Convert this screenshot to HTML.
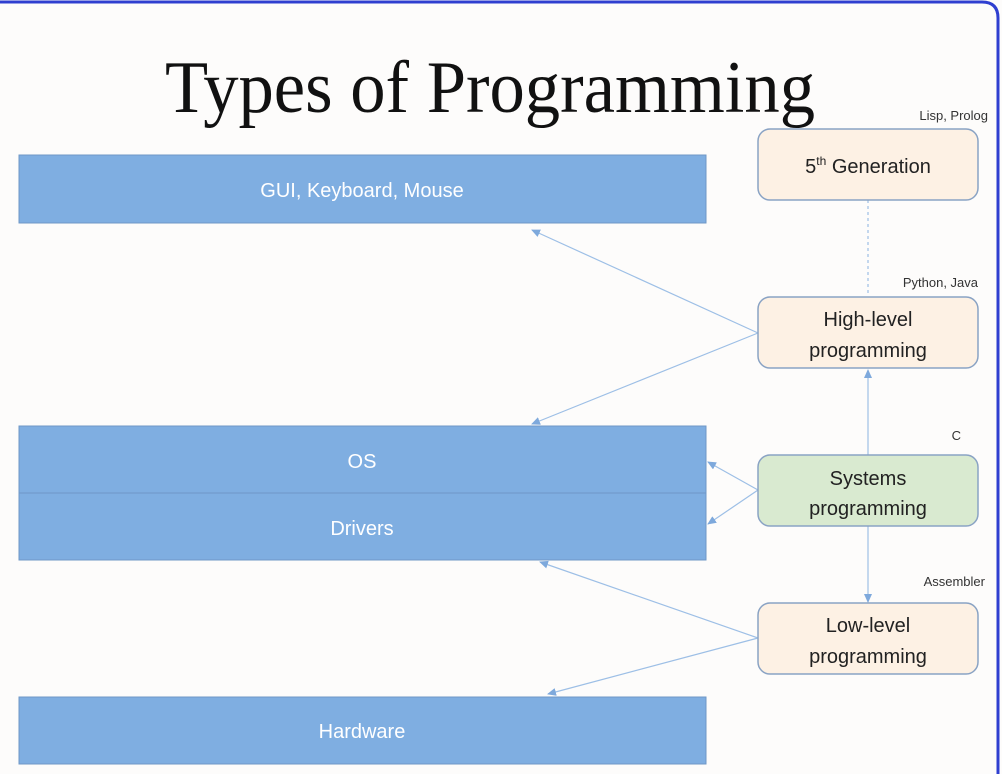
<!DOCTYPE html>
<html><head><meta charset="utf-8"><style>
html,body{margin:0;padding:0;background:#fff}
body{width:1002px;height:774px;overflow:hidden}
svg text{font-family:"Liberation Sans",sans-serif}
</style></head><body>
<svg width="1002" height="774" viewBox="0 0 1002 774" xmlns="http://www.w3.org/2000/svg">
<defs>
<marker id="a" markerWidth="10" markerHeight="10" refX="8" refY="4" orient="auto" markerUnits="userSpaceOnUse">
<path d="M0,0 L9,4 L0,8 z" fill="#7ea9dc"/>
</marker>
</defs>
<rect x="0" y="0" width="1002" height="774" fill="#fdfcfb"/>
<path d="M0,2 L982,2 Q998,2 998,18 L998,774" fill="none" stroke="#2f3fd0" stroke-width="3"/>
<text x="165" y="112" textLength="650" lengthAdjust="spacingAndGlyphs" font-size="74" fill="#111" style="font-family:'Liberation Serif',serif">Types of Programming</text>

<rect x="19" y="155" width="687" height="68" fill="#7faee1" stroke="#6f97c6"/>
<text x="362" y="197" text-anchor="middle" font-size="20" fill="#fff">GUI, Keyboard, Mouse</text>
<rect x="19" y="426" width="687" height="67" fill="#7faee1" stroke="#6f97c6"/>
<text x="362" y="468" text-anchor="middle" font-size="20" fill="#fff">OS</text>
<rect x="19" y="493" width="687" height="67" fill="#7faee1" stroke="#6f97c6"/>
<text x="362" y="535" text-anchor="middle" font-size="20" fill="#fff">Drivers</text>
<rect x="19" y="697" width="687" height="67" fill="#7faee1" stroke="#6f97c6"/>
<text x="362" y="738" text-anchor="middle" font-size="20" fill="#fff">Hardware</text>

<g stroke="#9dbfe6" stroke-width="1.2" fill="none">
<line x1="868" y1="200" x2="868" y2="296" stroke-dasharray="3,3"/>
<line x1="758" y1="333" x2="532" y2="230" marker-end="url(#a)"/>
<line x1="758" y1="333" x2="532" y2="424" marker-end="url(#a)"/>
<line x1="758" y1="490" x2="708" y2="462" marker-end="url(#a)"/>
<line x1="758" y1="490" x2="708" y2="524" marker-end="url(#a)"/>
<line x1="868" y1="455" x2="868" y2="370" marker-end="url(#a)"/>
<line x1="868" y1="526" x2="868" y2="602" marker-end="url(#a)"/>
<line x1="758" y1="638" x2="540" y2="562" marker-end="url(#a)"/>
<line x1="758" y1="638" x2="548" y2="694" marker-end="url(#a)"/>
</g>

<rect x="758" y="129" width="220" height="71" rx="12" fill="#fdf1e4" stroke="#8aa3c4" stroke-width="1.5"/>
<text x="868" y="173" text-anchor="middle" font-size="20" fill="#222">5<tspan font-size="12" dy="-8">th</tspan><tspan dy="8"> Generation</tspan></text>
<rect x="758" y="297" width="220" height="71" rx="12" fill="#fdf1e4" stroke="#8aa3c4" stroke-width="1.5"/>
<text x="868" y="326" text-anchor="middle" font-size="20" fill="#222">High-level</text>
<text x="868" y="357" text-anchor="middle" font-size="20" fill="#222">programming</text>
<rect x="758" y="455" width="220" height="71" rx="12" fill="#d9ead0" stroke="#8aa3c4" stroke-width="1.5"/>
<text x="868" y="485" text-anchor="middle" font-size="20" fill="#222">Systems</text>
<text x="868" y="515" text-anchor="middle" font-size="20" fill="#222">programming</text>
<rect x="758" y="603" width="220" height="71" rx="12" fill="#fdf1e4" stroke="#8aa3c4" stroke-width="1.5"/>
<text x="868" y="632" text-anchor="middle" font-size="20" fill="#222">Low-level</text>
<text x="868" y="663" text-anchor="middle" font-size="20" fill="#222">programming</text>

<text x="988" y="120" text-anchor="end" font-size="13" fill="#333">Lisp, Prolog</text>
<text x="978" y="287" text-anchor="end" font-size="13" fill="#333">Python, Java</text>
<text x="961" y="440" text-anchor="end" font-size="13" fill="#333">C</text>
<text x="985" y="586" text-anchor="end" font-size="13" fill="#333">Assembler</text>
</svg>
</body></html>
